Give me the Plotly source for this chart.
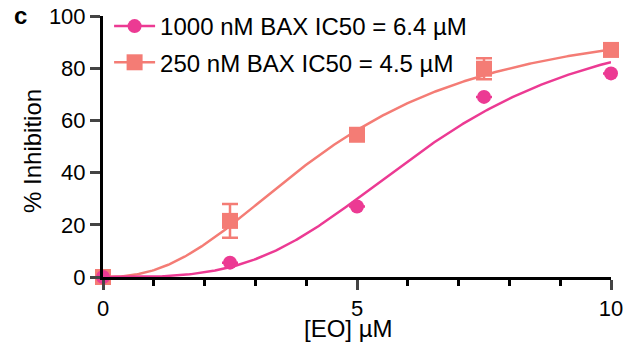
import numpy as np
import plotly.graph_objects as go

# Data
conc = [0, 2.5, 5, 7.5, 10]
inh_1000 = [0, 5.5, 27, 69, 78]
err_1000 = [0, 0, 0, 0, 0]
inh_250 = [0, 21.5, 54.5, 79.8, 87]
err_250 = [0, 6.5, 0, 4, 0]

# Fit parameters (Hill model)
ic50_1000, hill_1000, top_1000 = 6.4, 3.45, 100
ic50_250, hill_250, top_250 = 4.5, 2.4, 100

label_1000 = "1000 nM BAX IC50 = 6.4 µM"
label_250 = "250 nM BAX IC50 = 4.5 µM"
x_title = "[EO] µM"
y_title = "% Inhibition"
panel = "c"

pink = "#EC3A93"
salmon = "#F47C75"

xfit = np.linspace(0, 10, 300)
def hill(x, ic50, h, top):
    x = np.asarray(x, dtype=float)
    return top * x**h / (ic50**h + x**h)

fig = go.Figure()

# curves
fig.add_trace(go.Scatter(x=xfit, y=hill(xfit, ic50_250, hill_250, top_250), mode="lines",
                         line=dict(color=salmon, width=2.5), showlegend=False, hoverinfo="skip"))
fig.add_trace(go.Scatter(x=xfit, y=hill(xfit, ic50_1000, hill_1000, top_1000), mode="lines",
                         line=dict(color=pink, width=2.5), showlegend=False, hoverinfo="skip"))
# points
fig.add_trace(go.Scatter(x=conc, y=inh_250, mode="markers",
                         marker=dict(symbol="square", size=16, color=salmon),
                         error_y=dict(type="data", array=err_250, color=salmon, thickness=2.5, width=8),
                         showlegend=False, cliponaxis=False))
fig.add_trace(go.Scatter(x=conc, y=inh_1000, mode="markers",
                         marker=dict(symbol="circle", size=14, color=pink),
                         error_y=dict(type="data", array=err_1000, color=pink, thickness=2.5, width=8),
                         showlegend=False, cliponaxis=False))
# legend entries
fig.add_trace(go.Scatter(x=[None], y=[None], mode="lines+markers", name=label_1000,
                         line=dict(color=pink, width=2.5), legendgroup="a",
                         marker=dict(symbol="circle", size=14, color=pink), legendrank=1))
fig.add_trace(go.Scatter(x=[None], y=[None], mode="lines+markers", name=label_250,
                         line=dict(color=salmon, width=2.5), legendgroup="b",
                         marker=dict(symbol="square", size=16, color=salmon), legendrank=2))

font_family = "Liberation Sans, Arial, sans-serif"

fig.update_layout(
    width=626, height=360,
    margin=dict(l=103, r=15, t=16, b=83, autoexpand=False),
    paper_bgcolor="white", plot_bgcolor="white",
    font=dict(family=font_family, color="black", size=22),
    showlegend=True,
    legend=dict(x=0.012, xref="paper", y=1.046, yref="paper",
                xanchor="left", yanchor="top",
                bgcolor="rgba(0,0,0,0)", font=dict(size=24),
                itemwidth=41, traceorder="grouped", tracegroupgap=2),
    xaxis=dict(range=[0, 10], tickvals=[0, 5, 10], ticks="outside", ticklen=10, tickwidth=3,
               showline=True, linewidth=3, linecolor="black", showgrid=False, zeroline=False,
               tickfont=dict(size=22), automargin=False, ticklabeloverflow="allow",
               minor=dict(tickvals=[1, 2, 3, 4, 6, 7, 8, 9], ticks="outside", ticklen=6, tickwidth=3,
                          tickcolor="black")),
    yaxis=dict(range=[0, 100], tickvals=[0, 20, 40, 60, 80, 100], ticks="outside", ticklen=10, tickwidth=3,
               showline=True, linewidth=3, linecolor="black", showgrid=False, zeroline=False,
               tickfont=dict(size=22), automargin=False, ticklabeloverflow="allow"),
)

fig.add_annotation(text=x_title, xref="paper", yref="paper", x=0.483, y=-0.197,
                   xanchor="center", yanchor="middle", showarrow=False,
                   font=dict(size=24, family=font_family))
fig.add_annotation(text=y_title, xref="paper", yref="paper", x=-0.1378, y=0.483, textangle=-90,
                   xanchor="center", yanchor="middle", showarrow=False,
                   font=dict(size=24, family=font_family))
fig.add_annotation(text="<b>" + panel + "</b>", xref="paper", yref="paper", x=-0.179, y=0.9425,
                   xanchor="left", yanchor="bottom", showarrow=False,
                   font=dict(size=24, family=font_family))

fig.write_html("out.html", config={"displayModeBar": False},
               post_script="document.body.style.margin='0px';")
